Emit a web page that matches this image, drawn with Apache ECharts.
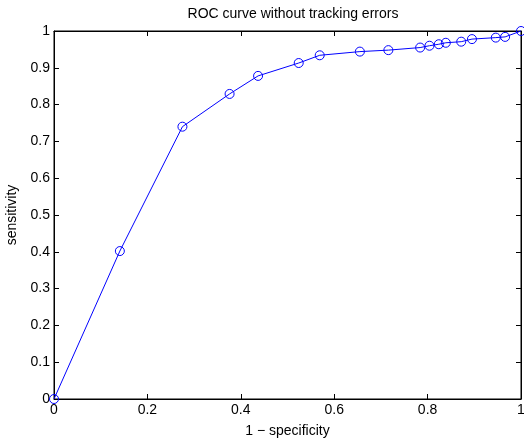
<!DOCTYPE html>
<html><head><meta charset="utf-8">
<script src="https://cdn.jsdelivr.net/npm/echarts@6/dist/echarts.min.js"></script>
<style>html,body{margin:0;padding:0;background:#fff}#c{width:524px;height:439px}</style>
</head><body><div id="c"></div>
<script>
var fpr = [0, 0.141, 0.275, 0.376, 0.437, 0.524, 0.569, 0.655, 0.716, 0.784, 0.804, 0.824, 0.839, 0.872, 0.895, 0.946, 0.966, 1.0];
var tpr = [0, 0.402, 0.740, 0.829, 0.878, 0.913, 0.934, 0.944, 0.948, 0.955, 0.960, 0.964, 0.968, 0.971, 0.978, 0.982, 0.984, 1.0];
var titleText = 'ROC curve without tracking errors';
var xName = '1 \u2212 specificity';
var yName = 'sensitivity';

var pts = fpr.map(function(x, i){ return [x, tpr[i]]; });
var font = 'Liberation Sans, Arial, sans-serif';
var axisLine = {show:true, onZero:false, lineStyle:{color:'#000', width:1}};
var tick = {show:true, inside:true, length:5, lineStyle:{color:'#000', width:1}};
var lbl = {color:'#000', fontSize:14, fontFamily:font, margin:4,
  formatter:function(v){ return String(+v.toFixed(1)); }};
var chart = echarts.init(document.getElementById('c'));
chart.setOption({
  animation:false,
  title:{text:titleText, left:288, top:2, textAlign:'center',
    textStyle:{fontSize:14, fontWeight:'normal', color:'#000', fontFamily:font}},
  grid:{left:54, right:3, top:31, bottom:40, outerBoundsMode:'none', containLabel:false,
    show:true, borderColor:'#000', borderWidth:1, backgroundColor:'transparent'},
  xAxis:[
    {type:'value', min:0, max:1, interval:0.2, position:'bottom',
     name:xName, nameLocation:'middle', nameGap:25,
     nameTextStyle:{fontSize:14, color:'#000', fontFamily:font},
     axisLine:axisLine, axisTick:tick, axisLabel:lbl, splitLine:{show:false}},
    {type:'value', min:0, max:1, interval:0.2, position:'top', show:true,
     axisLine:axisLine, axisTick:tick, axisLabel:{show:false}, splitLine:{show:false}}
  ],
  yAxis:[
    {type:'value', min:0, max:1, interval:0.1, position:'left',
     name:yName, nameLocation:'middle', nameGap:27, nameRotate:90,
     nameTextStyle:{fontSize:14, color:'#000', fontFamily:font},
     axisLine:axisLine, axisTick:tick, axisLabel:lbl, splitLine:{show:false}},
    {type:'value', min:0, max:1, interval:0.1, position:'right', show:true,
     axisLine:axisLine, axisTick:tick, axisLabel:{show:false}, splitLine:{show:false}}
  ],
  series:[{
    type:'line', data:pts, xAxisIndex:0, yAxisIndex:0,
    symbol:'circle', symbolSize:9, showAllSymbol:true, clip:false,
    lineStyle:{color:'#0000ff', width:1},
    itemStyle:{color:'rgba(0,0,0,0)', borderColor:'#0000ff', borderWidth:1}
  }]
});
</script></body></html>
